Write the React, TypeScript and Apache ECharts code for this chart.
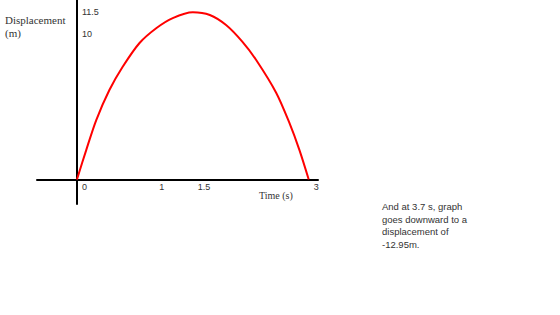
import React, { useEffect, useRef } from "react";
import * as echarts from "echarts";

// Time (s)
const timeValues = [0, 0.12, 0.25, 0.42, 0.59, 0.81, 1.03, 1.24, 1.5, 1.72, 1.93, 2.14, 2.32, 2.58, 2.75, 2.88, 3.0];
// Displacement (m)
const displacementValues = [0, 2.02, 4.08, 6.14, 7.72, 9.37, 10.4, 11.08, 11.48, 11.29, 10.6, 9.46, 8.2, 5.94, 3.88, 2.02, 0];
const xTickValues = [0, 1, 1.5, 3];
const yTickValues = [10, 11.5];
const noteLines = ["And at 3.7 s, graph", "goes downward to a", "displacement of", "-12.95m."];

const X_MIN = -0.517;
const X_MAX = 3.12;
const Y_MIN = -1.68;
const Y_MAX = 12.32;

export default function App() {
  const ref = useRef<HTMLDivElement>(null);
  useEffect(() => {
    if (!ref.current) return;
    const chart = echarts.init(ref.current, null, { renderer: "svg" });
    const data = timeValues.map((t, i) => [t, displacementValues[i]]);
    const labelFont = { fontFamily: "Liberation Sans", fontSize: 9, color: "#333" };
    chart.setOption({
      animation: false,
      backgroundColor: "#ffffff",
      grid: { left: 37, right: 242, top: 0, bottom: 111, containLabel: false },
      xAxis: [
        {
          type: "value",
          min: X_MIN,
          max: X_MAX,
          splitLine: { show: false },
          axisTick: { show: false },
          axisLabel: { show: false },
          axisLine: { onZero: true, lineStyle: { color: "#000", width: 2 } },
        },
        {
          type: "value",
          position: "bottom",
          offset: -24.5,
          min: X_MIN,
          max: X_MAX,
          splitLine: { show: false },
          axisTick: { show: false },
          axisLine: { show: false },
          axisLabel: {
            customValues: xTickValues,
            align: "left",
            margin: 3,
            padding: [0, 0, 0, 5],
            ...labelFont,
          },
        },
      ],
      yAxis: [
        {
          type: "value",
          min: Y_MIN,
          max: Y_MAX,
          splitLine: { show: false },
          axisTick: { show: false },
          axisLabel: { show: false },
          axisLine: { onZero: true, lineStyle: { color: "#000", width: 2 } },
        },
        {
          type: "value",
          position: "left",
          offset: -40,
          min: Y_MIN,
          max: Y_MAX,
          splitLine: { show: false },
          axisTick: { show: false },
          axisLine: { show: false },
          axisLabel: {
            customValues: yTickValues,
            inside: true,
            margin: 5,
            ...labelFont,
          },
        },
      ],
      series: [
        {
          type: "line",
          data,
          smooth: 0.3,
          showSymbol: false,
          lineStyle: { color: "#ff0000", width: 2 },
        },
      ],
      graphic: [
        {
          type: "text",
          left: 5,
          top: 13,
          style: {
            text: "Displacement\n(m)",
            fontFamily: "Liberation Serif",
            fontSize: 11,
            lineHeight: 13,
            fill: "#333",
          },
        },
        {
          type: "text",
          left: 259,
          top: 190,
          style: {
            text: "Time (s)",
            fontFamily: "Liberation Serif",
            fontSize: 10,
            fill: "#333",
          },
        },
        {
          type: "text",
          left: 382,
          top: 200,
          style: {
            text: noteLines.join("\n"),
            fontFamily: "Liberation Sans",
            fontSize: 9.5,
            lineHeight: 12.7,
            fill: "#333",
          },
        },
      ],
    });
    return () => chart.dispose();
  }, []);
  return <div ref={ref} style={{ width: 560, height: 315, position: "absolute", left: 0, top: 0 }} />;
}
